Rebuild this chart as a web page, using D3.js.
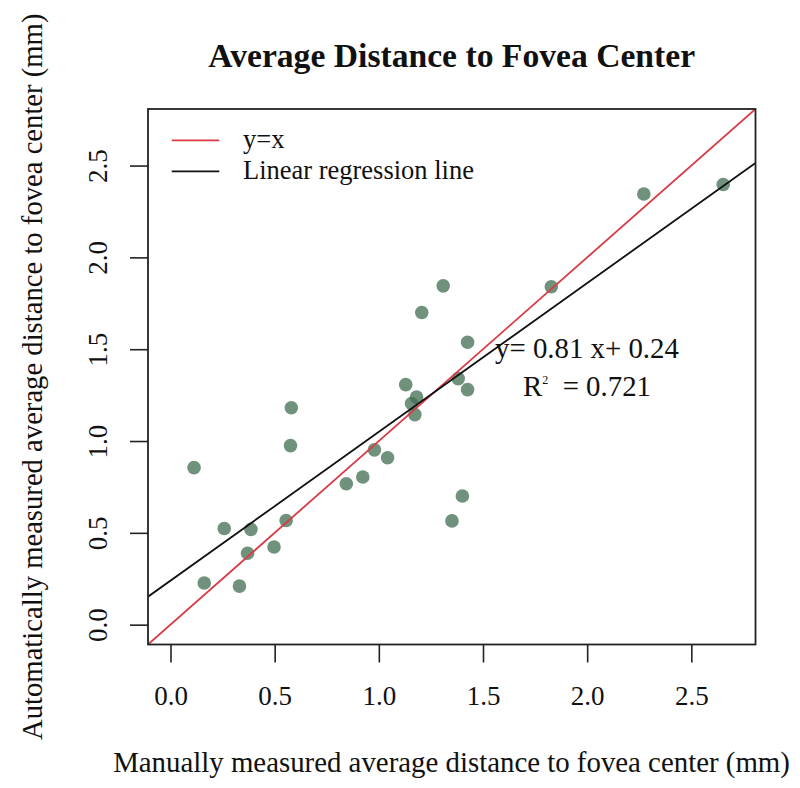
<!DOCTYPE html>
<html><head><meta charset="utf-8">
<script src="https://cdn.jsdelivr.net/npm/d3@7"></script>
<style>body{margin:0;background:#fff}svg{display:block}text{font-family:"Liberation Serif","Times New Roman",serif;fill:#111}</style>
</head><body>
<svg id="c" width="800" height="788"></svg>
<script>
const manual = [0.113,0.162,0.258,0.331,0.386,0.370,0.497,0.555,0.576,0.580,0.844,0.923,0.979,1.042,1.129,1.157,1.181,1.173,1.206,1.309,1.351,1.401,1.381,1.426,1.426,1.828,2.272,2.653];
const automatic = [0.855,0.227,0.524,0.210,0.519,0.389,0.423,0.567,0.975,1.181,0.767,0.804,0.952,0.909,1.307,1.204,1.239,1.144,1.700,1.845,0.565,0.701,1.340,1.280,1.538,1.840,2.345,2.397];
const xTicks = [0.0,0.5,1.0,1.5,2.0,2.5];
const yTicks = [0.0,0.5,1.0,1.5,2.0,2.5];
const slope = 0.81, intercept = 0.24, r2 = "0.721";
const legendLabels = ["y=x","Linear regression line"];
const legendColors = ["#d93a44","#111111"];
const lim = [0, 2.7];

const ext = (lim[1]-lim[0])*0.04;
const dom = [lim[0]-ext, lim[1]+ext];
const L=148, R=755.5, T=109, B=644.5;
const x = d3.scaleLinear().domain(dom).range([L,R]);
const y = d3.scaleLinear().domain(dom).range([B,T]);
const svg = d3.select("#c");

function fit(sel, w){ const n=sel.node(); let fs=+sel.attr("font-size"); const cur=n.getComputedTextLength(); sel.attr("font-size", fs*w/cur); }

svg.append("defs").append("clipPath").attr("id","clip").append("rect").attr("x",L).attr("y",T).attr("width",R-L).attr("height",B-T);

const fmt = d3.format(".1f");
const xa = svg.append("g").attr("transform",`translate(0,${B})`).call(d3.axisBottom(x).tickValues(xTicks).tickFormat(fmt).tickSize(18).tickPadding(23));
const ya = svg.append("g").attr("transform",`translate(${L},0)`).call(d3.axisLeft(y).tickValues(yTicks).tickFormat(fmt).tickSize(18).tickPadding(8));
[xa,ya].forEach(a=>{a.select(".domain").remove();a.selectAll("line").attr("stroke","#222").attr("stroke-width",1.6);a.selectAll("text").attr("font-size",27).attr("font-family","Liberation Serif").attr("fill","#111");});
xa.selectAll("text").attr("dy","0.71em");
ya.selectAll("text").attr("x",-41).attr("y",0).attr("dy",0).attr("text-anchor","middle").attr("transform","rotate(-90,-41,0)");

const g = svg.append("g").attr("clip-path","url(#clip)");
g.selectAll("circle").data(manual.map((m,i)=>[m,automatic[i]])).join("circle")
  .attr("cx",d=>x(d[0])).attr("cy",d=>y(d[1])).attr("r",6.8)
  .attr("fill","rgb(62,106,78)").attr("fill-opacity",0.74);
g.append("line").attr("x1",x(dom[0])).attr("y1",y(dom[0])).attr("x2",x(dom[1])).attr("y2",y(dom[1])).attr("stroke",legendColors[0]).attr("stroke-width",1.8);
g.append("line").attr("x1",x(dom[0])).attr("y1",y(intercept+slope*dom[0])).attr("x2",x(dom[1])).attr("y2",y(intercept+slope*dom[1])).attr("stroke",legendColors[1]).attr("stroke-width",1.8);

svg.append("rect").attr("x",L).attr("y",T).attr("width",R-L).attr("height",B-T).attr("fill","none").attr("stroke","#222").attr("stroke-width",1.8);

// legend
const legY=[140.3,171.3];
legendLabels.forEach((lab,i)=>{
  svg.append("line").attr("x1",171.7).attr("x2",219.3).attr("y1",legY[i]).attr("y2",legY[i]).attr("stroke",legendColors[i]).attr("stroke-width",1.8);
  svg.append("text").attr("x",243).attr("y",legY[i]+8).attr("font-size",24).text(lab);
});
const lt = svg.selectAll("text").filter(function(){return this.textContent===legendLabels[1];});
fit(lt,231);
const lfs = lt.attr("font-size");
svg.selectAll("text").filter(function(){return this.textContent===legendLabels[0];}).attr("font-size",lfs);

// annotation
const eq = svg.append("text").attr("x",495).attr("y",358).attr("font-size",26).text(`y= ${slope} x+ ${intercept}`);
fit(eq,184);
const r2t = svg.append("text").attr("x",523).attr("y",396).attr("font-size",eq.attr("font-size"));
r2t.append("tspan").text("R");
r2t.append("tspan").attr("font-size",12).attr("dy",-12).text("2");
r2t.append("tspan").attr("dy",12).text("\u00a0\u00a0= "+r2);

// titles
const tt = svg.append("text").attr("x",(L+R)/2).attr("y",67).attr("text-anchor","middle").attr("font-weight","bold").attr("font-size",28).text("Average Distance to Fovea Center");
fit(tt,487);
const xt = svg.append("text").attr("x",451.5).attr("y",772).attr("text-anchor","middle").attr("font-size",24).text("Manually measured average distance to fovea center (mm)");
fit(xt,677);
const yt = svg.append("text").attr("transform",`translate(42,${(T+B)/2}) rotate(-90)`).attr("text-anchor","middle").attr("font-size",24).text("Automatically measured average distance to fovea center (mm)");
fit(yt,727);
</script>
</body></html>
